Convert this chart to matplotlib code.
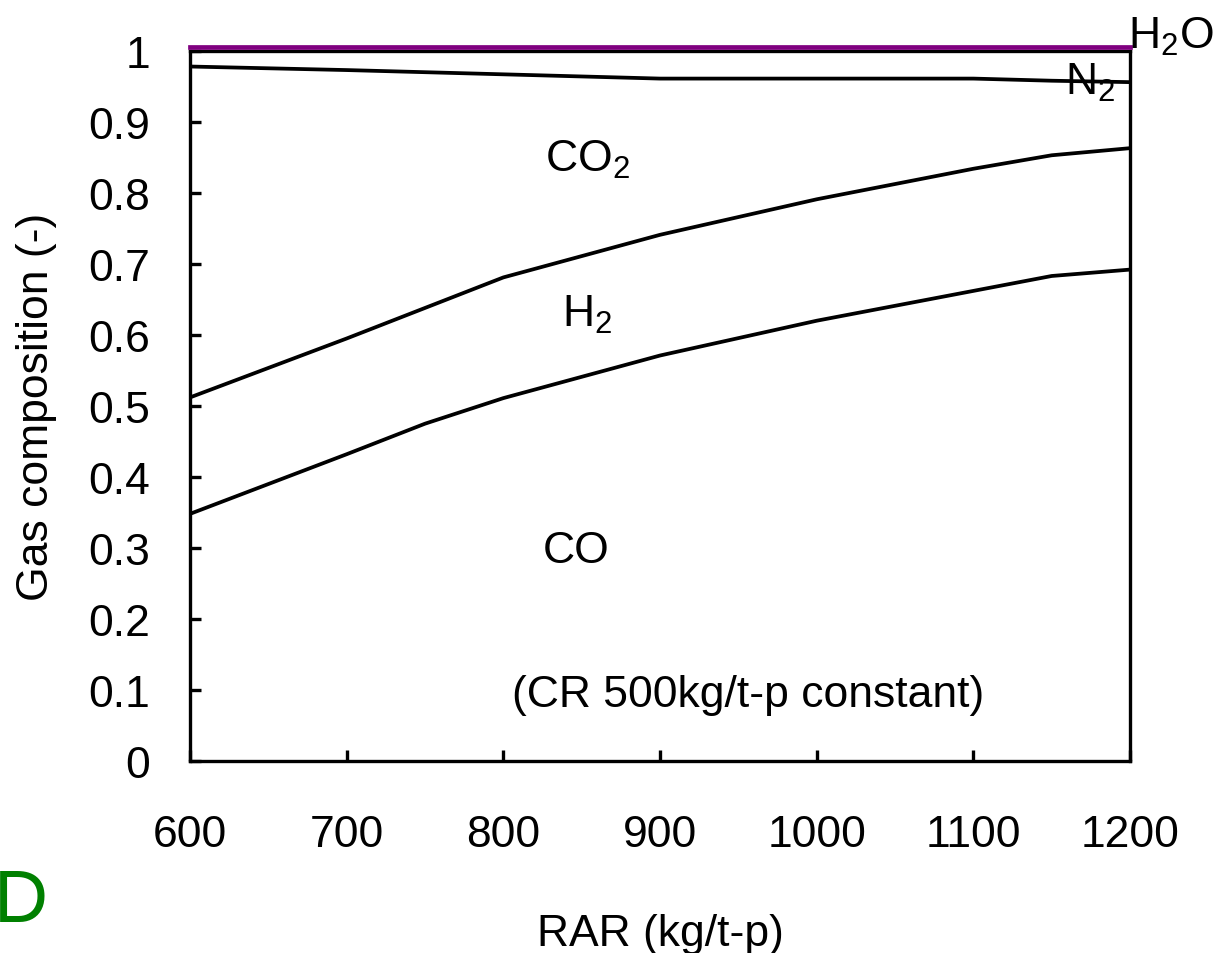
''' Gas composition vs RAR (cumulative fractions) '''
import matplotlib
matplotlib.use('Agg')
import matplotlib.pyplot as plt
import matplotlib.transforms as mtransforms

plt.rcParams['font.family'] = ['Liberation Sans', 'DejaVu Sans']
plt.rcParams['mathtext.fontset'] = 'custom'
plt.rcParams['mathtext.rm'] = 'Liberation Sans'
plt.rcParams['mathtext.it'] = 'Liberation Sans'

# cumulative boundaries
rar = [600, 700, 750, 800, 900, 1000, 1100, 1150, 1200]
co_top = [0.348, 0.432, 0.475, 0.511, 0.571, 0.620, 0.662, 0.683, 0.692]
h2_top = [0.512, 0.595, 0.638, 0.681, 0.741, 0.791, 0.834, 0.853, 0.863]
co2_top = [0.978, 0.973, 0.970, 0.967, 0.961, 0.961, 0.961, 0.958, 0.956]
n2_top = [1.0, 1.0, 1.0, 1.0, 1.0, 1.0, 1.0, 1.0, 1.0]

y_ticks = [0, 0.1, 0.2, 0.3, 0.4, 0.5, 0.6, 0.7, 0.8, 0.9, 1.0]
y_labels = ['0', '0.1', '0.2', '0.3', '0.4', '0.5', '0.6', '0.7', '0.8', '0.9', '1']
x_ticks = [600, 700, 800, 900, 1000, 1100, 1200]

FS = 32

fig = plt.figure(figsize=(12.19, 9.54), dpi=100)
ax = fig.add_axes([0.1559, 0.2013, 0.7711, 0.7443])

ax.plot(rar, co_top, color='black', lw=2.7)
ax.plot(rar, h2_top, color='black', lw=2.7)
ax.plot(rar, co2_top, color='black', lw=2.7)
purple_tr = mtransforms.offset_copy(ax.transData, fig=fig, x=0, y=4, units='dots')
ax.plot(rar, n2_top, color='#800080', lw=3.4, transform=purple_tr, clip_on=False, zorder=3)

ax.set_xlim(600, 1200)
ax.set_ylim(0, 1)
ax.set_xticks(x_ticks)
ax.set_xticklabels([str(v) for v in x_ticks])
ax.set_yticks(y_ticks)
ax.set_yticklabels(y_labels)
ax.tick_params(axis='both', direction='in', length=8, width=2.4, labelsize=FS)
ax.tick_params(axis='x', pad=38)
ax.tick_params(axis='y', pad=29)
for sp in ax.spines.values():
    sp.set_linewidth(2.4)

ax.set_xlabel('RAR (kg/t-p)', fontsize=FS, labelpad=42)
ax.set_ylabel('Gas composition (-)', fontsize=FS, labelpad=22)

# region labels
ax.text(826.6, 0.831, r'$\mathregular{CO_2}$', fontsize=FS, va='baseline')
ax.text(837.3, 0.613, r'$\mathregular{H_2}$', fontsize=FS, va='baseline')
ax.text(825.3, 0.280, 'CO', fontsize=FS, va='baseline')
ax.text(805.5, 0.077, '(CR 500kg/t-p constant)', fontsize=FS, va='baseline')
ax.text(1158.5, 0.940, r'$\mathregular{N_2}$', fontsize=FS, va='baseline')
ax.text(1199, 1.004, r'$\mathregular{H_2O}$', fontsize=FS, va='baseline', clip_on=False)

fig.text(-0.005, 0.0335, 'D', fontsize=54, color='#008000', va='baseline')

plt.savefig('out.png', dpi=100)
